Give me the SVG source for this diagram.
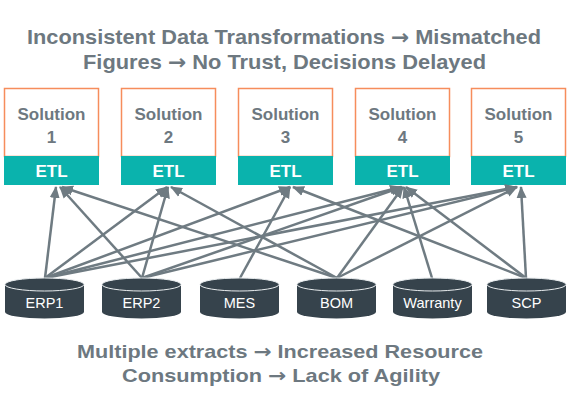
<svg xmlns="http://www.w3.org/2000/svg" width="570" height="416" viewBox="0 0 570 416">
<defs>
<style>
.title{font-family:"Liberation Sans",Arial,sans-serif;font-weight:bold;font-size:20.5px;fill:#6d7880;text-anchor:middle}
.sub{font-size:19px}
.ar{font-family:"DejaVu Sans",sans-serif;font-weight:bold}
.sol{font-family:"Liberation Sans",Arial,sans-serif;font-weight:bold;font-size:17px;fill:#6d7880;text-anchor:middle}
.etl{font-family:"Liberation Sans",Arial,sans-serif;font-weight:bold;font-size:17px;fill:#ffffff;text-anchor:middle}
.db{font-family:"Liberation Sans",Arial,sans-serif;font-size:14.5px;fill:#ffffff;text-anchor:middle}
.box{fill:#ffffff;stroke:#f68d5c;stroke-width:1.5}
.band{fill:#0ab3ad}
.cyl{fill:#36434c}
.cyltop{fill:#36434c;stroke:#e8ecee;stroke-width:1}
.conn line{stroke:#6f7b82;stroke-width:2.5;marker-end:url(#ah)}
</style>
<marker id="ah" markerUnits="userSpaceOnUse" markerWidth="12" markerHeight="12" viewBox="0 0 12 12" refX="11" refY="6" orient="auto">
<path d="M0,1 L12,6 L0,11 Z" fill="#6f7b82"/>
</marker>
</defs>
<rect width="570" height="416" fill="#ffffff"/>
<text class="title" x="284" y="44" textLength="514" lengthAdjust="spacingAndGlyphs">Inconsistent Data Transformations <tspan class="ar">→</tspan> Mismatched</text>
<text class="title" x="284.5" y="69" textLength="403" lengthAdjust="spacingAndGlyphs">Figures <tspan class="ar">→</tspan> No Trust, Decisions Delayed</text>

<g id="sol1"><rect class="box" x="4.5" y="88.5" width="94" height="68"/><rect class="band" x="4" y="156" width="95" height="29"/><text class="sol" x="51.5" y="120">Solution</text><text class="sol" x="51.5" y="143">1</text><text class="etl" x="51.5" y="177">ETL</text></g>
<g id="sol2"><rect class="box" x="121.5" y="88.5" width="94" height="68"/><rect class="band" x="121" y="156" width="95" height="29"/><text class="sol" x="168.5" y="120">Solution</text><text class="sol" x="168.5" y="143">2</text><text class="etl" x="168.5" y="177">ETL</text></g>
<g id="sol3"><rect class="box" x="238.5" y="88.5" width="94" height="68"/><rect class="band" x="238" y="156" width="95" height="29"/><text class="sol" x="285.5" y="120">Solution</text><text class="sol" x="285.5" y="143">3</text><text class="etl" x="285.5" y="177">ETL</text></g>
<g id="sol4"><rect class="box" x="355.5" y="88.5" width="94" height="68"/><rect class="band" x="355" y="156" width="95" height="29"/><text class="sol" x="402.5" y="120">Solution</text><text class="sol" x="402.5" y="143">4</text><text class="etl" x="402.5" y="177">ETL</text></g>
<g id="sol5"><rect class="box" x="471.5" y="88.5" width="94" height="68"/><rect class="band" x="471" y="156" width="95" height="29"/><text class="sol" x="518.5" y="120">Solution</text><text class="sol" x="518.5" y="143">5</text><text class="etl" x="518.5" y="177">ETL</text></g>

<g id="connectors" class="conn">
<line x1="45" y1="278" x2="56" y2="187"/>
<line x1="45" y1="278" x2="167" y2="187"/>
<line x1="45" y1="278" x2="290" y2="187"/>
<line x1="45" y1="278" x2="401" y2="187"/>
<line x1="45" y1="278" x2="516" y2="187"/>
<line x1="142" y1="278" x2="60" y2="187"/>
<line x1="142" y1="278" x2="168" y2="187"/>
<line x1="142" y1="278" x2="402" y2="187"/>
<line x1="142" y1="278" x2="517" y2="187"/>
<line x1="240" y1="278" x2="290" y2="187"/>
<line x1="337" y1="278" x2="62" y2="187"/>
<line x1="337" y1="278" x2="171" y2="187"/>
<line x1="337" y1="278" x2="403" y2="187"/>
<line x1="337" y1="278" x2="517" y2="187"/>
<line x1="432" y1="278" x2="404" y2="187"/>
<line x1="526" y1="278" x2="293" y2="187"/>
<line x1="526" y1="278" x2="406" y2="187"/>
<line x1="526" y1="278" x2="521" y2="187"/>
</g>

<g id="erp1"><path class="cyl" d="M5,284.5 V312 A39.5,6.5 0 0 0 84,312 V284.5 Z"/><ellipse class="cyltop" cx="44.5" cy="284.5" rx="39.5" ry="6.5"/><text class="db" x="44.5" y="308">ERP1</text></g>
<g id="erp2"><path class="cyl" d="M102,284.5 V312 A39.5,6.5 0 0 0 181,312 V284.5 Z"/><ellipse class="cyltop" cx="141.5" cy="284.5" rx="39.5" ry="6.5"/><text class="db" x="141.5" y="308">ERP2</text></g>
<g id="mes"><path class="cyl" d="M200,284.5 V312 A39.5,6.5 0 0 0 279,312 V284.5 Z"/><ellipse class="cyltop" cx="239.5" cy="284.5" rx="39.5" ry="6.5"/><text class="db" x="239.5" y="308">MES</text></g>
<g id="bom"><path class="cyl" d="M297,284.5 V312 A39.5,6.5 0 0 0 376,312 V284.5 Z"/><ellipse class="cyltop" cx="336.5" cy="284.5" rx="39.5" ry="6.5"/><text class="db" x="336.5" y="308">BOM</text></g>
<g id="warranty"><path class="cyl" d="M393,284.5 V312 A39.5,6.5 0 0 0 472,312 V284.5 Z"/><ellipse class="cyltop" cx="432.5" cy="284.5" rx="39.5" ry="6.5"/><text class="db" x="432.5" y="308">Warranty</text></g>
<g id="scp"><path class="cyl" d="M487,284.5 V312 A39.5,6.5 0 0 0 566,312 V284.5 Z"/><ellipse class="cyltop" cx="526.5" cy="284.5" rx="39.5" ry="6.5"/><text class="db" x="526.5" y="308">SCP</text></g>

<text class="title sub" x="280" y="358" textLength="406" lengthAdjust="spacingAndGlyphs">Multiple extracts <tspan class="ar">→</tspan> Increased Resource</text>
<text class="title sub" x="281" y="382" textLength="318" lengthAdjust="spacingAndGlyphs">Consumption <tspan class="ar">→</tspan> Lack of Agility</text>
</svg>
